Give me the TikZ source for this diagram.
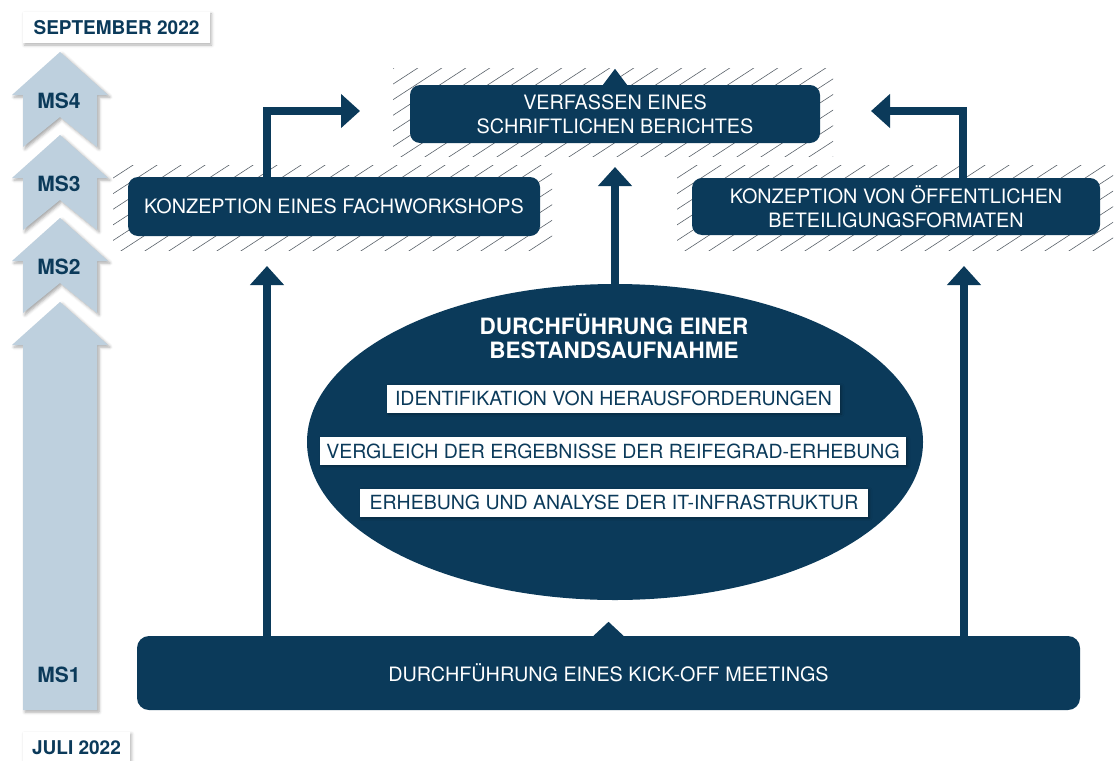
\documentclass[tikz,border=0pt]{standalone}
\usepackage{fontspec}
\setmainfont{TeX Gyre Heros}
\usetikzlibrary{arrows.meta,shapes.geometric,shadows.blur}
\definecolor{navy}{RGB}{11,58,90}
\definecolor{msblue}{RGB}{190,208,222}
\definecolor{hatchgrey}{RGB}{90,98,106}
\tikzset{
	box/.style={fill=navy, rounded corners=10pt, text=white, align=center, inner sep=0pt, font=\fontsize{19.8}{24}\selectfont},
	subbox/.style={fill=white, text=navy, inner sep=0pt, minimum height=28pt, font=\fontsize{19.5}{22}\selectfont, blur shadow={shadow opacity=30, shadow xshift=1.5pt, shadow yshift=-1.5pt, shadow blur radius=2.5pt}},
	datebox/.style={fill=white, text=navy, inner sep=0pt, font=\bfseries\fontsize{19}{22}\selectfont, blur shadow={shadow opacity=30, shadow xshift=1.5pt, shadow yshift=-2pt, shadow blur radius=3pt}},
	mslabel/.style={text=navy, font=\bfseries\fontsize{21}{24}\selectfont},
	conn/.style={navy, line width=8pt, -{Triangle[width=33pt,length=19pt]}},
	hatch/.style={hatchgrey, line width=0.6pt},
	msarrow/.style={fill=msblue, blur shadow={shadow opacity=35, shadow xshift=2pt, shadow yshift=-2pt, shadow blur radius=3pt}}
}
\begin{document}
\begin{tikzpicture}[x=1pt,y=-1pt]
		\useasboundingbox (0,0) rectangle (1115,760);
		% milestone chevrons
		\foreach \t/\lab in {52/MS4,135/MS3,218/MS2}
		{
			\path[msarrow] (60,\t) -- (108,\t+43) -- (97,\t+43) -- (97,\t+95) -- (60,\t+65) -- (23,\t+95) -- (23,\t+43) -- (12,\t+43) -- cycle;
			\node[mslabel] (\lab) at (59,\t+49) {\lab};
		}
		\path[msarrow] (60,302) -- (108,345) -- (97,345) -- (97,710) -- (23,710) -- (23,345) -- (12,345) -- cycle;
		\node[mslabel] (MS1) at (59,675) {MS1};
		% dates
		\node[datebox, minimum width=187pt, minimum height=31pt] (sept) at (116.5,27.5) {SEPTEMBER 2022};
		\node[datebox, minimum width=107pt, minimum height=32pt] (juli) at (76.5,748) {JULI 2022};
		% hatched fields behind the upper boxes
		\foreach \xa/\ya/\xb/\yb in {393/68/833/156, 113/165/552/250, 677/165/1113/250}
		{
			\begin{scope}
				\clip (\xa,\ya) rectangle (\xb,\yb);
				\foreach \i in {0,...,27}
				{
					\draw[hatch] (\xa-150+\i*24,\yb+10) -- ++(200,-130);
				}
			\end{scope}
		}
		% upper boxes
		\node[box, minimum width=410pt, minimum height=58pt] (bericht) at (615,114) {VERFASSEN EINES\\SCHRIFTLICHEN BERICHTES};
		\fill[navy] ([xshift=-12pt]bericht.north) -- ([yshift=16pt]bericht.north) -- ([xshift=12pt]bericht.north) -- cycle;
		\node[box, minimum width=412pt, minimum height=59pt] (fach) at (334,206.5) {KONZEPTION EINES FACHWORKSHOPS};
		\node[box, minimum width=408pt, minimum height=57pt] (oeff) at (896,206.5) {KONZEPTION VON ÖFFENTLICHEN\\BETEILIGUNGSFORMATEN};
		% kick-off meeting
		\node[box, rounded corners=12pt, minimum width=943pt, minimum height=74pt] (kick) at (608.5,673) {DURCHFÜHRUNG EINES KICK-OFF MEETINGS};
		\fill[navy] ([xshift=-15pt]kick.north) -- ([yshift=14pt]kick.north) -- ([xshift=15pt]kick.north) -- cycle;
		% bestandsaufnahme
		\node[ellipse, fill=navy, minimum width=616pt, minimum height=316pt, inner sep=0pt] (bestand) at (615,442) {};
		\node[text=white, align=center, font=\bfseries\fontsize{22.5}{24}\selectfont] (titel) at (614,336) {DURCHFÜHRUNG EINER\\BESTANDSAUFNAHME};
		\node[subbox, minimum width=453pt] (ident) at (613.5,398.5) {IDENTIFIKATION VON HERAUSFORDERUNGEN};
		\node[subbox, minimum width=586pt] (vergl) at (613,451) {VERGLEICH DER ERGEBNISSE DER REIFEGRAD-ERHEBUNG};
		\node[subbox, minimum width=508pt] (erheb) at (614,502.5) {ERHEBUNG UND ANALYSE DER IT-INFRASTRUKTUR};
		% arrows
		\coordinate (fachin) at (267,266);
		\coordinate (oeffin) at (964,266);
		\coordinate (berichtin) at (615,167);
		\coordinate (fachup) at (267,111);
		\coordinate (oeffup) at (963,111);
		\coordinate (berichtl) at (360,111);
		\coordinate (berichtr) at (871,111);
		\draw[conn] (kick.north -| fachin) -- (fachin);
		\draw[conn] (kick.north -| oeffin) -- (oeffin);
		\draw[conn] (bestand.north) -- (berichtin);
		\draw[conn] (fach.north -| fachup) -- (fachup) -- (berichtl);
		\draw[conn] (oeff.north -| oeffup) -- (oeffup) -- (berichtr);
	\end{tikzpicture}
\end{document}
